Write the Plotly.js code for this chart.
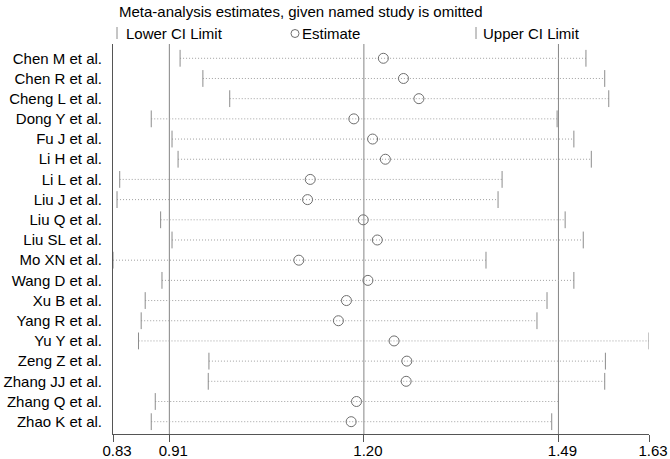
<!DOCTYPE html>
<html>
<head>
<meta charset="utf-8">
<script src="https://cdn.plot.ly/plotly-3.0.1.min.js"></script>
<style>
  html, body { margin: 0; padding: 0; background: #ffffff; }
  #chart { width: 670px; height: 459px; }
</style>
</head>
<body>
<div id="chart"></div>
<script>
// ---- data ----
const studies = [
  "Chen M et al.", "Chen R et al.", "Cheng L et al.", "Dong Y et al.", "Fu J et al.",
  "Li H et al.", "Li L et al.", "Liu J et al.", "Liu Q et al.", "Liu SL et al.",
  "Mo XN et al.", "Wang D et al.", "Xu B et al.", "Yang R et al.", "Yu Y et al.",
  "Zeng Z et al.", "Zhang JJ et al.", "Zhang Q et al.", "Zhao K et al."
];
const lowerCI = [0.930, 0.964, 1.004, 0.887, 0.918, 0.927, 0.840, 0.836, 0.901, 0.918,
                 0.830, 0.903, 0.878, 0.872, 0.868, 0.973, 0.972, 0.893, 0.887];
const estimate = [1.233, 1.263, 1.286, 1.189, 1.217, 1.236, 1.124, 1.120, 1.203, 1.224,
                  1.107, 1.210, 1.178, 1.166, 1.249, 1.268, 1.267, 1.193, 1.185];
const upperCI = [1.535, 1.563, 1.569, 1.492, 1.517, 1.543, 1.410, 1.404, 1.504, 1.531,
                 1.386, 1.517, 1.477, 1.462, 1.629, 1.564, 1.563, 1.494, 1.484];
const pooledLower = 0.914;
const pooledEstimate = 1.204;
const pooledUpper = 1.494;
const titleText = "Meta-analysis estimates, given named study is omitted";
const legendLabels = ["Lower CI Limit", "Estimate", "Upper CI Limit"];

// ---- derived ----
const rows = studies.map((_, i) => i);
const xMin = Math.min(...lowerCI);
const xMax = Math.max(...upperCI);
const tickVals = [xMin, pooledLower, pooledEstimate, pooledUpper, xMax];

const segX = [], segY = [];
rows.forEach(i => { segX.push(lowerCI[i], upperCI[i], null); segY.push(i, i, null); });

const FONT = "Liberation Sans, Arial, sans-serif";
const dotCol = "#a0a0a0";
const tickCol = "#8c8c8c";
const circCol = "#6e6e6e";

const traces = [
  { type: "scatter", mode: "lines", x: segX, y: segY, hoverinfo: "skip",
    line: { color: dotCol, width: 1, dash: "1px,2px" }, showlegend: false },
  { type: "scatter", mode: "markers", name: legendLabels[0], x: lowerCI, y: rows,
    marker: { symbol: "line-ns", size: 12, line: { color: tickCol, width: 1 } }, showlegend: false },
  { type: "scatter", mode: "markers", name: legendLabels[2], x: upperCI, y: rows,
    marker: { symbol: "line-ns", size: 12, line: { color: tickCol, width: 1 } }, showlegend: false },
  { type: "scatter", mode: "markers", name: legendLabels[1], x: estimate, y: rows,
    marker: { symbol: "circle-open", size: 10, color: circCol, line: { color: circCol, width: 1 } }, showlegend: false }
];

// plot area in pixels: x 113..649, y 44..434
const L = 113, T = 44, W = 536, H = 390;
const px = v => (v - L) / W;
const py = v => (T + H - v) / H;

const refLines = [pooledLower, pooledEstimate, pooledUpper].map(v => ({
  type: "line", xref: "x", yref: "paper", x0: v, x1: v, y0: 0, y1: 1,
  line: { color: "#858585", width: 1 }, layer: "below"
}));

const LEG_Y = 33;
const legendShapes = [
  { type: "line", xref: "paper", yref: "paper", x0: px(117), x1: px(117), y0: py(LEG_Y - 6), y1: py(LEG_Y + 6),
    line: { color: tickCol, width: 1 } },
  { type: "circle", xref: "paper", yref: "paper", x0: px(291), x1: px(299), y0: py(LEG_Y - 3.5), y1: py(LEG_Y + 4.5),
    line: { color: circCol, width: 1 } },
  { type: "line", xref: "paper", yref: "paper", x0: px(476), x1: px(476), y0: py(LEG_Y - 6), y1: py(LEG_Y + 6),
    line: { color: tickCol, width: 1 } }
];

const ann = (text, x, y) => ({
  text: text, xref: "paper", yref: "paper", x: px(x), y: py(y),
  xanchor: "left", yanchor: "middle", showarrow: false,
  font: { family: FONT, size: 15, color: "#000000" }
});

const layout = {
  width: 670, height: 459,
  margin: { l: L, r: 670 - L - W, t: T, b: 459 - T - H, pad: 0 },
  paper_bgcolor: "#ffffff", plot_bgcolor: "#ffffff",
  font: { family: FONT, size: 15, color: "#000000" },
  showlegend: false,
  xaxis: {
    range: [xMin, xMax], tickvals: tickVals, tickformat: ".2f",
    ticks: "outside", ticklen: 7, tickcolor: "#555555", tickwidth: 1,
    showline: true, linecolor: "#555555", linewidth: 1,
    showgrid: false, zeroline: false, ticklabelshift: 4, ticklabelstandoff: -4,
    tickfont: { family: FONT, size: 15, color: "#000000" }
  },
  yaxis: {
    range: [18.61, -0.708], tickvals: rows, ticktext: studies,
    ticks: "", ticklabelstandoff: 7,
    showline: true, linecolor: "#555555", linewidth: 1,
    showgrid: false, zeroline: false,
    tickfont: { family: FONT, size: 15, color: "#000000" }
  },
  shapes: refLines.concat(legendShapes),
  annotations: [
    ann(titleText, 117, 11),
    ann(legendLabels[0], 124, LEG_Y),
    ann(legendLabels[1], 300, LEG_Y),
    ann(legendLabels[2], 481, LEG_Y)
  ]
};

Plotly.newPlot("chart", traces, layout, { displayModeBar: false, staticPlot: true });
</script>
</body>
</html>
